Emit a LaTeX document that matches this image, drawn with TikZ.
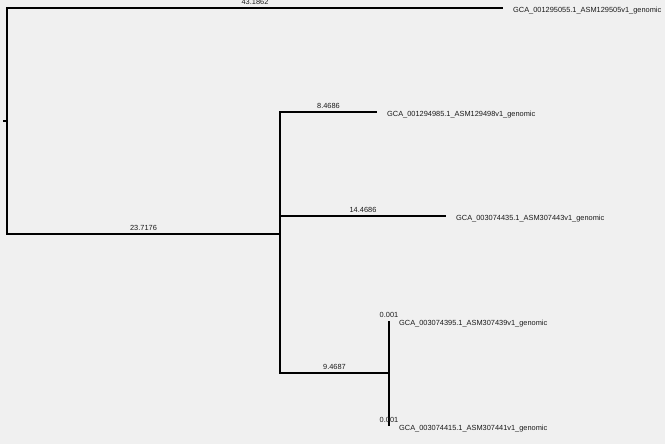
\documentclass[tikz,border=0pt]{standalone}
\usepackage{fontspec}
\setmainfont{Liberation Sans}
\usetikzlibrary{positioning}
\definecolor{bggrey}{HTML}{F0F0F0}
\definecolor{inkgrey}{HTML}{1A1A1A}
\tikzset{%
   branch/.style={
      draw=black,
      line width=1.6pt
   },
   len/.style={
      font=\fontsize{7.4}{8}\selectfont,
      text=inkgrey,
      inner sep=2.5pt
   },
   leaf/.style={
      font=\fontsize{7.4}{8}\selectfont,
      text=inkgrey,
      inner sep=1pt,
      yshift=-2.5pt
   },
}
\begin{document}
\begin{tikzpicture}[x=1pt, y=-1pt]
   \fill[bggrey] (0,0) rectangle (665,444);
   \useasboundingbox (0,0) rectangle (665,444);
   % inner nodes
   \coordinate (r0) at (3,121);
   \coordinate (root) at (7,121);
   \coordinate (n1) at (280,234);
   \coordinate (n2) at (389,373);
   % tips
   \coordinate (t1) at (503,8);
   \coordinate (t2) at (377,112);
   \coordinate (t3) at (446,216);
   \coordinate (t4) at (389,321);
   \coordinate (t5) at (389,426);
   \node[leaf, right=9pt of t1] (g1) {GCA\_001295055.1\_ASM129505v1\_genomic};
   \node[leaf, right=9pt of t2] (g2) {GCA\_001294985.1\_ASM129498v1\_genomic};
   \node[leaf, right=9pt of t3] (g3) {GCA\_003074435.1\_ASM307443v1\_genomic};
   \node[leaf, right=9pt of t4] (g4) {GCA\_003074395.1\_ASM307439v1\_genomic};
   \node[leaf, right=9pt of t5] (g5) {GCA\_003074415.1\_ASM307441v1\_genomic};
   % branches
   \draw[branch] (r0) -- (root);
   \draw[branch] (root) |- (t1) node[len, pos=.75, above] {43.1862};
   \draw[branch] (root) |- (n1) node[len, pos=.75, above] {23.7176};
   \draw[branch] (n1) |- (t2) node[len, pos=.75, above] {8.4686};
   \draw[branch] (n1) |- (t3) node[len, pos=.75, above] {14.4686};
   \draw[branch] (n1) |- (n2) node[len, pos=.75, above] {9.4687};
   \draw[branch] (n2) |- (t4) node[len, pos=.75, above] {0.001};
   \draw[branch] (n2) |- (t5) node[len, pos=.75, above] {0.001};
\end{tikzpicture}
\end{document}
